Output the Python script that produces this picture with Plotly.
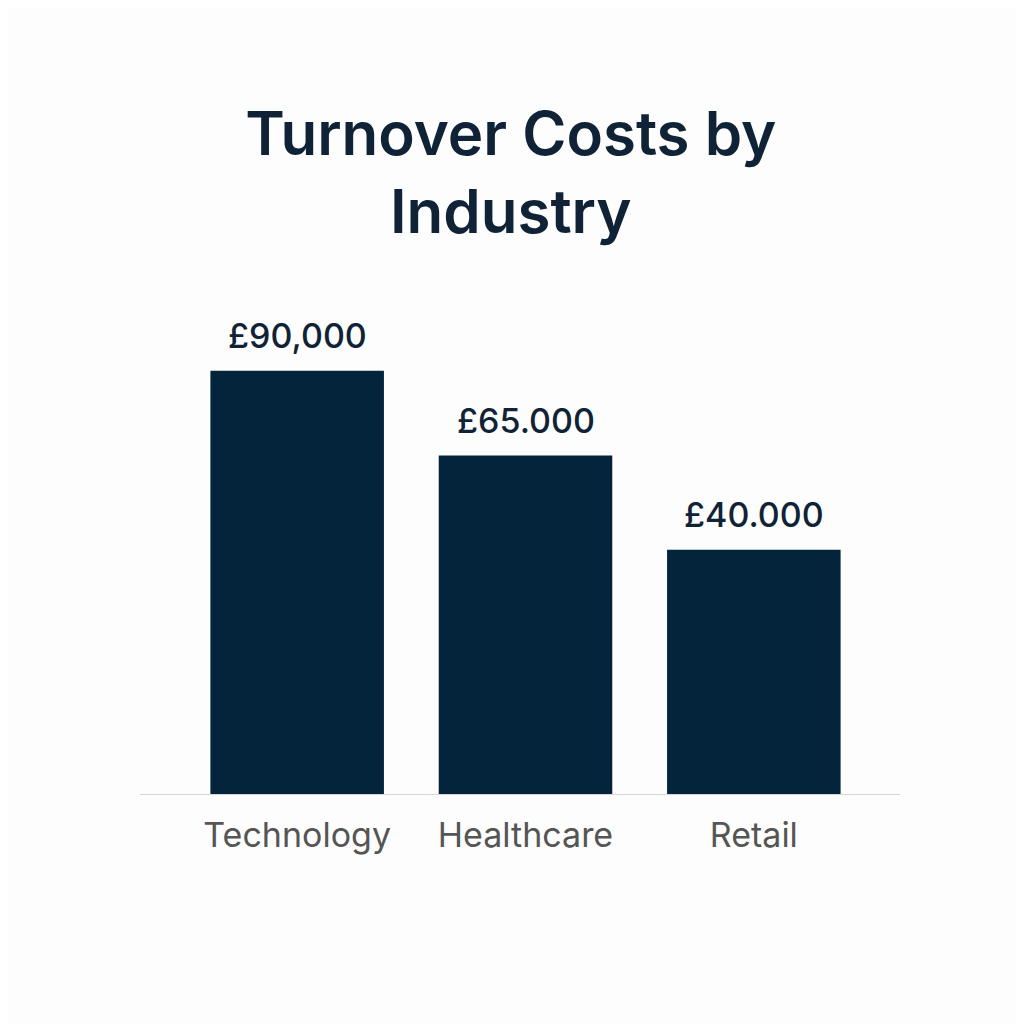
import plotly.graph_objects as go

# Data
industries = ["Technology", "Healthcare", "Retail"]
bar_heights = [90000, 72000, 52000]  # bar tops as drawn in the picture
value_labels = ["£90,000", "£65.000", "£40.000"]  # labels as printed

navy = "#03243a"

fig = go.Figure()
fig.add_trace(go.Bar(
    x=industries,
    y=bar_heights,
    marker=dict(color=navy, line=dict(width=0)),
    width=0.76,
    hoverinfo="skip",
))

# value labels above each bar
for cat, h, lab in zip(industries, bar_heights, value_labels):
    fig.add_annotation(
        x=cat, y=h, text=lab, showarrow=False,
        yanchor="bottom", yshift=13,
        font=dict(family="Inter, Noto Sans, sans-serif", size=34, color="#0f2236", weight=500),
    )

# thin baseline running past the bars
fig.add_shape(
    type="line", xref="paper", yref="y",
    x0=-0.063, x1=1.047, y0=0, y1=0,
    line=dict(color="#d6d6d6", width=2),
)

fig.update_layout(
    width=1024, height=1024,
    paper_bgcolor="#fdfdfd",
    plot_bgcolor="#fdfdfd",
    margin=dict(l=175, r=164, t=292, b=237),
    showlegend=False,
    title=dict(
        text="Turnover Costs by<br>Industry",
        x=0.491, xanchor="center",
        y=0.856, yanchor="top",
        font=dict(family="Inter, Noto Sans, sans-serif", size=60, color="#0f2236", weight=600),
    ),
    bargap=0.24,
)

fig.update_xaxes(
    showline=False, showgrid=False, zeroline=False,
    ticks="outside", ticklen=10, tickcolor="rgba(0,0,0,0)",
    tickfont=dict(family="Inter, Noto Sans, sans-serif", size=34, color="#555555"),
)
fig.update_yaxes(
    range=[0, 105000],
    visible=False, showgrid=False, zeroline=False,
)

fig.write_html("out.html")
